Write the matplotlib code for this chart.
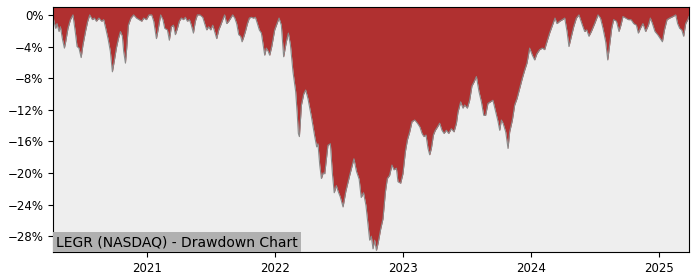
import numpy as np
import matplotlib
matplotlib.use("Agg")
import matplotlib.pyplot as plt
from matplotlib.ticker import PercentFormatter

# time as decimal years, drawdown in percent
t = [2020.268, 2020.273, 2020.289, 2020.299, 2020.315, 2020.326, 2020.341, 2020.357, 2020.367, 2020.385,
     2020.404, 2020.424, 2020.435, 2020.445, 2020.456, 2020.471, 2020.488, 2020.502, 2020.523, 2020.539,
     2020.555, 2020.576, 2020.591, 2020.607, 2020.627, 2020.648, 2020.664, 2020.680, 2020.698, 2020.716,
     2020.732, 2020.748, 2020.763, 2020.779, 2020.795, 2020.810, 2020.820, 2020.834, 2020.844, 2020.857,
     2020.877, 2020.898, 2020.920, 2020.940, 2020.961, 2020.977, 2020.998, 2021.018, 2021.039, 2021.055,
     2021.076, 2021.091, 2021.109, 2021.127, 2021.141, 2021.162, 2021.177, 2021.193, 2021.209, 2021.224,
     2021.240, 2021.255, 2021.271, 2021.287, 2021.302, 2021.318, 2021.334, 2021.349, 2021.365, 2021.380,
     2021.396, 2021.416, 2021.438, 2021.453, 2021.469, 2021.484, 2021.500, 2021.516, 2021.531, 2021.547,
     2021.563, 2021.578, 2021.594, 2021.609, 2021.625, 2021.641, 2021.656, 2021.672, 2021.688, 2021.703,
     2021.719, 2021.734, 2021.745, 2021.760, 2021.771, 2021.787, 2021.802, 2021.818, 2021.834, 2021.849,
     2021.865, 2021.880, 2021.896, 2021.912, 2021.922, 2021.935, 2021.949, 2021.961, 2021.977, 2022.000,
     2022.034, 2022.052, 2022.070, 2022.091, 2022.107, 2022.123, 2022.143, 2022.164, 2022.176, 2022.185,
     2022.193, 2022.209, 2022.227, 2022.242, 2022.260, 2022.287, 2022.313, 2022.328, 2022.338, 2022.352,
     2022.365, 2022.379, 2022.391, 2022.416, 2022.435, 2022.451, 2022.465, 2022.482, 2022.495, 2022.512,
     2022.534, 2022.556, 2022.586, 2022.619, 2022.639, 2022.660, 2022.676, 2022.694, 2022.713, 2022.729,
     2022.742, 2022.755, 2022.768, 2022.781, 2022.795, 2022.809, 2022.828, 2022.846, 2022.865, 2022.880,
     2022.898, 2022.916, 2022.932, 2022.951, 2022.963, 2022.984, 2023.002, 2023.021, 2023.037, 2023.055,
     2023.073, 2023.094, 2023.115, 2023.135, 2023.151, 2023.166, 2023.182, 2023.198, 2023.211, 2023.224,
     2023.240, 2023.255, 2023.271, 2023.289, 2023.307, 2023.323, 2023.341, 2023.359, 2023.380, 2023.401,
     2023.420, 2023.432, 2023.453, 2023.471, 2023.484, 2023.505, 2023.523, 2023.541, 2023.557, 2023.576,
     2023.596, 2023.615, 2023.633, 2023.648, 2023.666, 2023.685, 2023.705, 2023.727, 2023.745, 2023.758,
     2023.771, 2023.784, 2023.805, 2023.823, 2023.836, 2023.857, 2023.875, 2023.893, 2023.914, 2023.935,
     2023.953, 2023.971, 2023.992, 2024.013, 2024.031, 2024.049, 2024.070, 2024.091, 2024.109, 2024.127,
     2024.148, 2024.170, 2024.190, 2024.205, 2024.227, 2024.248, 2024.266, 2024.284, 2024.299, 2024.318,
     2024.336, 2024.357, 2024.377, 2024.404, 2024.422, 2024.438, 2024.455, 2024.474, 2024.500, 2024.526,
     2024.545, 2024.565, 2024.586, 2024.602, 2024.617, 2024.633, 2024.648, 2024.670, 2024.690, 2024.705,
     2024.721, 2024.742, 2024.763, 2024.784, 2024.805, 2024.826, 2024.841, 2024.857, 2024.877, 2024.898,
     2024.920, 2024.935, 2024.951, 2024.971, 2024.992, 2025.013, 2025.029, 2025.045, 2025.065, 2025.086,
     2025.112, 2025.133, 2025.148, 2025.164, 2025.180, 2025.195, 2025.211, 2025.227, 2025.237]

drawdown = [0.0, -0.6, -1.7, -1.1, -2.1, -1.5, -3.0, -4.2, -3.4, -1.7,
            -0.6, 0.0, -1.3, -2.5, -4.0, -4.2, -5.4, -3.8, -2.0, -0.8,
            0.0, -0.6, -0.4, -0.8, -0.4, -0.8, -0.6, -1.7, -3.0, -4.6,
            -7.2, -5.7, -4.2, -3.0, -2.1, -2.7, -4.6, -6.1, -4.2, -1.3,
            -0.4, 0.0, -0.4, -0.6, -0.8, -0.4, -0.6, 0.0, 0.0, -0.8,
            -3.0, -1.7, 0.0, -0.6, -1.7, -1.9, -3.2, -1.5, -1.3, -2.5,
            -1.7, -0.8, -0.4, -0.6, -0.3, -0.8, -0.6, -1.3, -2.3, -0.8,
            0.0, 0.0, -0.3, -1.1, -1.9, -1.5, -1.9, -1.3, -2.1, -3.0,
            -1.9, -1.3, -0.6, 0.0, -1.1, -0.8, -0.4, 0.0, -0.4, -1.1,
            -2.5, -2.7, -3.4, -2.7, -2.1, -1.1, -0.4, -0.3, -0.4, -0.3,
            -1.1, -1.9, -2.3, -4.0, -5.1, -4.2, -4.6, -5.1, -4.0, -1.9,
            -0.4, -1.3, -5.3, -3.4, -2.3, -3.8, -7.2, -9.7, -12.5, -15.0,
            -15.4, -11.4, -10.0, -9.5, -10.6, -12.9, -15.4, -16.7, -16.3, -19.0,
            -20.7, -20.0, -20.1, -16.5, -16.3, -20.1, -22.5, -21.6, -22.3, -23.0,
            -24.3, -22.3, -20.3, -18.2, -19.8, -20.8, -23.1, -22.5, -24.1, -26.5,
            -28.5, -28.0, -29.6, -28.5, -29.8, -28.8, -27.1, -25.8, -22.4, -20.7,
            -20.3, -19.0, -19.6, -19.4, -21.1, -21.3, -20.1, -17.3, -15.8, -14.8,
            -13.5, -13.3, -13.7, -14.2, -15.0, -15.4, -15.2, -16.9, -17.7, -16.9,
            -15.2, -14.6, -14.2, -13.7, -14.6, -15.0, -14.6, -15.0, -14.4, -14.8,
            -13.7, -12.3, -11.0, -11.8, -11.4, -11.8, -10.8, -9.0, -8.5, -7.8,
            -9.7, -11.0, -12.7, -12.7, -11.2, -11.0, -10.8, -12.3, -13.5, -14.6,
            -13.3, -13.7, -14.8, -16.9, -14.8, -13.3, -11.4, -10.6, -9.3, -8.0,
            -7.0, -6.1, -4.2, -5.1, -5.7, -4.9, -4.4, -4.2, -4.4, -3.4,
            -2.3, -1.3, -0.4, -1.1, -0.8, -0.6, -0.4, -2.1, -4.0, -2.7,
            -1.5, -0.4, 0.0, -1.3, -2.1, -1.9, -2.7, -2.1, -1.1, 0.0,
            -0.4, -1.7, -3.4, -5.7, -3.8, -1.7, -0.6, -0.8, -2.1, -1.3,
            -0.2, -0.4, -0.6, -0.6, -1.1, -1.3, -2.3, -1.7, -1.1, -2.1,
            -1.3, -0.4, -1.1, -2.1, -2.5, -3.0, -3.4, -1.9, -0.6, -0.4,
            -0.2, 0.0, -1.1, -1.7, -1.9, -2.7, -1.1, -0.6, -0.2]

years = [2021, 2022, 2023, 2024, 2025]
title = "LEGR (NASDAQ) - Drawdown Chart"

fig = plt.figure(figsize=(7, 2.8), dpi=100)
ax = fig.add_axes([0.0757, 0.1, 0.9086, 0.875])
ax.set_facecolor("#eeeeee")

ax.set_xlim(t[0], t[-1])
ax.set_ylim(-30.0, 1.0)
top = ax.get_ylim()[1]

# red area runs from the curve up to the top of the plot
ax.fill_between(t, drawdown, top, color="#b03030", linewidth=0)
ax.plot(t, drawdown, color="#8a8a8a", linewidth=0.8)

ax.set_yticks(np.arange(0, -29, -4))
ax.yaxis.set_major_formatter(PercentFormatter(decimals=0))
ax.set_xticks(years)
ax.set_xticklabels([str(y) for y in years])
ax.tick_params(labelsize=8.5)

ax.text(0.005, 0.012, title, transform=ax.transAxes, fontsize=10,
        va="bottom", ha="left",
        bbox=dict(facecolor="#b0b0b0", edgecolor="none", pad=2))

fig.savefig("out.png", dpi=100)
